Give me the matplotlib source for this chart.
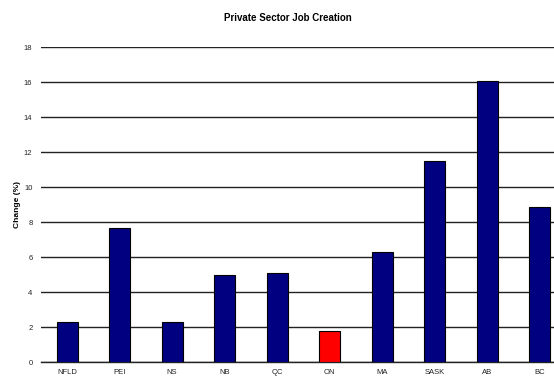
import matplotlib.pyplot as plt

provinces = ['NFLD', 'PEI', 'NS', 'NB', 'QC', 'ON', 'MA', 'SASK', 'AB', 'BC']
job_change = [2.3, 7.7, 2.3, 5.0, 5.1, 1.8, 6.3, 11.5, 16.1, 8.9]
bar_colors = ['#000080'] * 5 + ['#FF0000'] + ['#000080'] * 4

plt.rcParams['font.family'] = ['Liberation Sans', 'DejaVu Sans']

fig = plt.figure(figsize=(5.54, 3.77), dpi=100)
# plot area runs past the right edge of the figure
ax = fig.add_axes([0.0736, 0.0385, 0.9477, 0.836])

x = range(len(provinces))
ax.bar(x, job_change, width=0.4, color=bar_colors, edgecolor='black',
       linewidth=0.8, zorder=3)

ax.set_xlim(-0.5, len(provinces) - 0.5)
ax.set_ylim(0, 18)
ax.set_yticks(range(0, 19, 2))
ax.set_xticks(list(x))
ax.set_xticklabels(provinces)

ax.yaxis.grid(True, color='#222222', linewidth=1.0, zorder=0)
for side in ['left', 'right', 'top']:
    ax.spines[side].set_visible(False)
ax.spines['bottom'].set_color('#222222')
ax.spines['bottom'].set_linewidth(1.0)

ax.tick_params(axis='both', length=0, labelsize=5.5, colors='#222222')
ax.tick_params(axis='x', pad=5)
ax.tick_params(axis='y', pad=6)

ax.set_ylabel('Change (%)', fontsize=6, fontweight='bold', labelpad=2)
fig.text(288 / 554, 1 - 17.7 / 377, 'Private Sector Job Creation',
         ha='center', va='center', fontsize=7, fontweight='bold')

fig.savefig('out.png', dpi=100)
